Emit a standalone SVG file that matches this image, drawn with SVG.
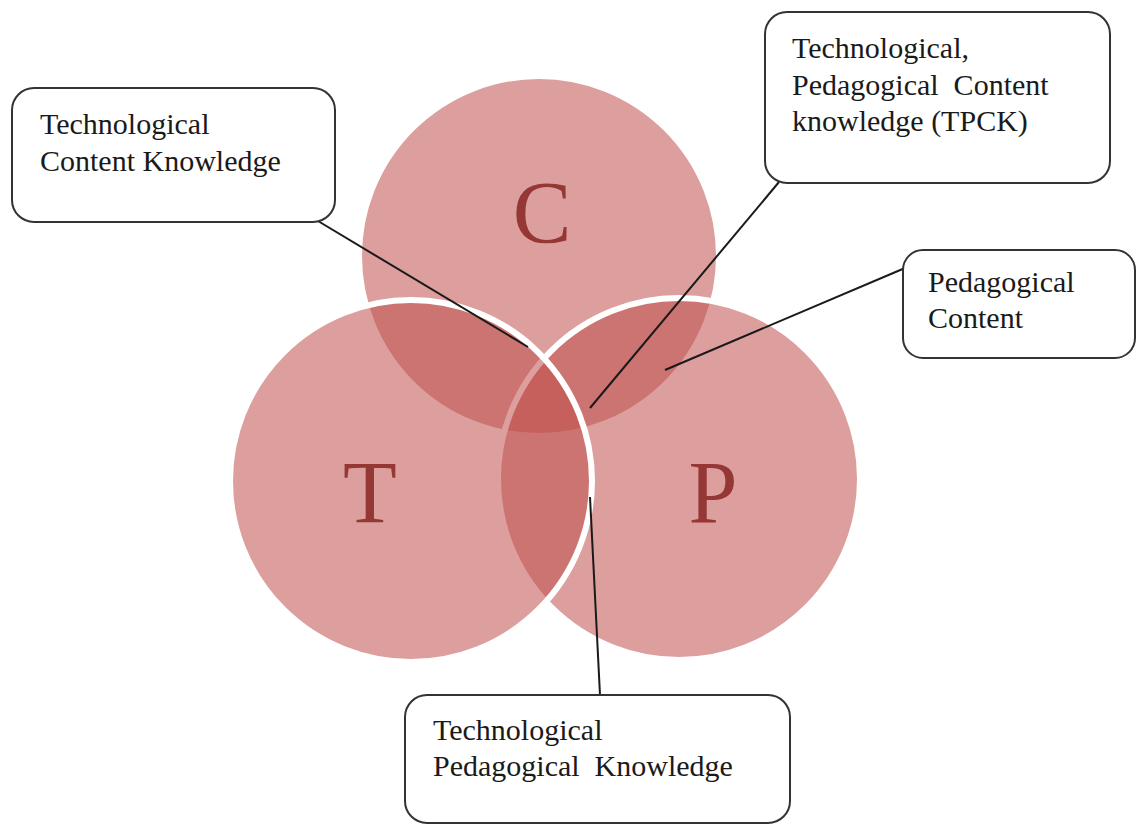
<svg xmlns="http://www.w3.org/2000/svg" width="1138" height="827" viewBox="0 0 1138 827">
<style>
.circ{fill:#C0504D;fill-opacity:0.55;stroke:#ffffff;stroke-width:6}
.letter{font-family:"Liberation Serif","Times New Roman",serif;font-size:88px;fill:#953735;text-anchor:middle}
.box{fill:#ffffff;stroke:#333333;stroke-width:2}
.lbl{font-family:"Liberation Serif","Times New Roman",serif;font-size:30px;fill:#1a1a1a;white-space:pre}
.conn{stroke:#1a1a1a;stroke-width:2;fill:none}
</style>
<rect width="1138" height="827" fill="#ffffff"/>
<g id="circle-C">
<circle class="circ" cx="539" cy="256" r="180"/>
<text class="letter" x="542" y="242">C</text>
</g>
<g id="circle-P">
<circle class="circ" cx="679" cy="479" r="181"/>
<text class="letter" x="713" y="522">P</text>
</g>
<g id="circle-T">
<circle class="circ" cx="411" cy="481" r="181"/>
<text class="letter" x="370" y="522">T</text>
</g>
<g id="connectors">
<line class="conn" x1="318" y1="221" x2="528" y2="347"/>
<line class="conn" x1="779" y1="182" x2="590" y2="408"/>
<line class="conn" x1="905" y1="268" x2="665" y2="370"/>
<line class="conn" x1="590" y1="497" x2="600" y2="695"/>
</g>
<g id="box-tck">
<rect class="box" x="12" y="88" width="323" height="134" rx="22"/>
<text class="lbl" x="40" y="134">Technological</text>
<text class="lbl" x="40" y="171">Content Knowledge</text>
</g>
<g id="box-tpck">
<rect class="box" x="765" y="12" width="345" height="171" rx="22"/>
<text class="lbl" x="792" y="58">Technological,</text>
<text class="lbl" x="792" y="95">Pedagogical&#160; Content</text>
<text class="lbl" x="792" y="131">knowledge (TPCK)</text>
</g>
<g id="box-pc">
<rect class="box" x="903" y="250" width="232" height="108" rx="20"/>
<text class="lbl" x="928" y="292">Pedagogical</text>
<text class="lbl" x="928" y="328">Content</text>
</g>
<g id="box-tpk">
<rect class="box" x="405" y="695" width="385" height="128" rx="22"/>
<text class="lbl" x="433" y="740">Technological</text>
<text class="lbl" x="433" y="776">Pedagogical&#160; Knowledge</text>
</g>
</svg>
